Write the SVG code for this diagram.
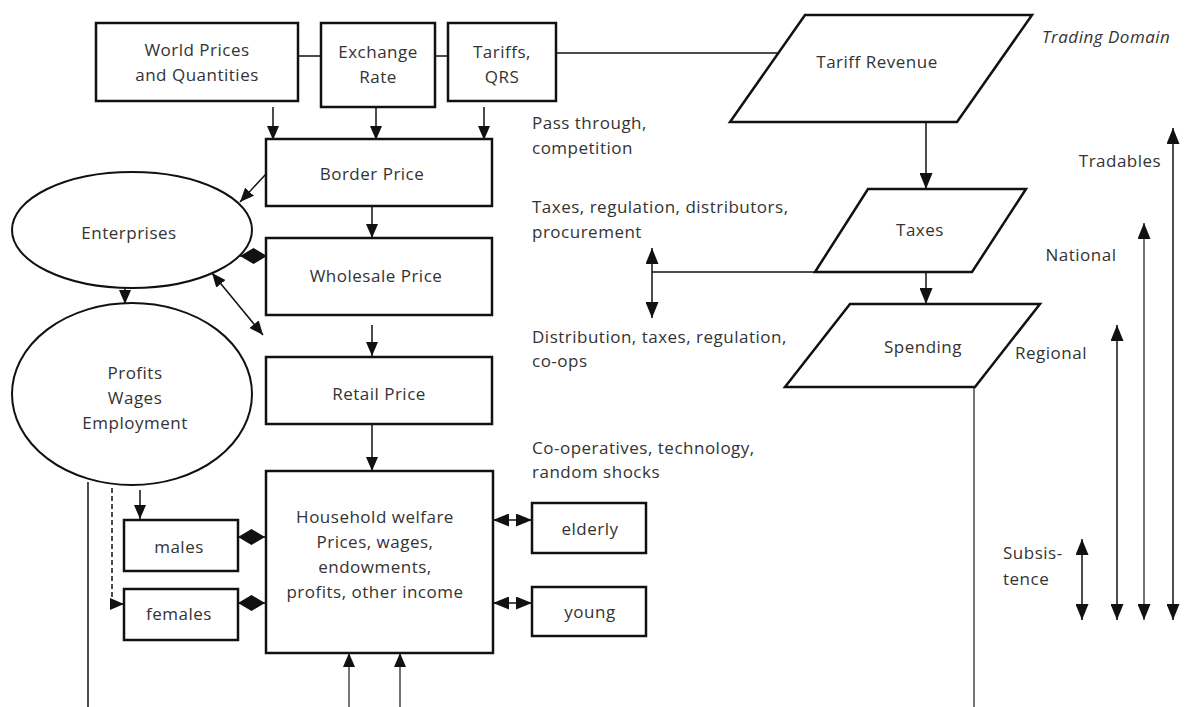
<svg xmlns="http://www.w3.org/2000/svg" width="1186" height="707" viewBox="0 0 1186 707">
<style>
.box{fill:#fff;stroke:#111;stroke-width:2.5}
.ell{fill:#fff;stroke:#111;stroke-width:2}
.ln{fill:none;stroke:#111;stroke-width:1.5}
.gl{fill:none;stroke:#666;stroke-width:1.8}
.t{font-family:"Open Sans","Noto Sans",sans-serif;font-size:17px;letter-spacing:0.5px;fill:#333}
.c{text-anchor:middle}
.i{font-style:italic}
</style>
<defs>
<marker id="a" markerUnits="userSpaceOnUse" markerWidth="16" markerHeight="13" refX="16" refY="6.5" orient="auto-start-reverse"><path d="M0,0 L16,6.5 L0,13 z" fill="#111"/></marker>
<marker id="s" markerUnits="userSpaceOnUse" markerWidth="14" markerHeight="12" refX="14" refY="6" orient="auto-start-reverse"><path d="M0,0 L14,6 L0,12 z" fill="#111"/></marker>
<marker id="d" markerUnits="userSpaceOnUse" markerWidth="27" markerHeight="16" refX="27" refY="8" orient="auto"><path d="M0,8 L13.5,0 L27,8 L13.5,16 z" fill="#111"/></marker>
</defs>
<rect width="1186" height="707" fill="#fff"/>
<g id="connectors">
<line class="ln" x1="298" y1="56" x2="321" y2="56"/>
<line class="ln" x1="435" y1="56" x2="448" y2="56"/>
<line class="ln" x1="556" y1="53" x2="778" y2="53"/>
<line class="ln" x1="273" y1="107" x2="273" y2="140" marker-end="url(#s)"/>
<line class="ln" x1="376" y1="107" x2="376" y2="140" marker-end="url(#s)"/>
<line class="ln" x1="484" y1="107" x2="484" y2="140" marker-end="url(#s)"/>
<line class="ln" x1="266" y1="174" x2="240" y2="202" marker-end="url(#s)"/>
<line class="ln" x1="372" y1="206" x2="372" y2="238" marker-end="url(#s)"/>
<line class="ln" x1="266" y1="256" x2="240" y2="256" marker-end="url(#d)"/>
<line class="ln" x1="212" y1="273" x2="263" y2="335" marker-start="url(#s)" marker-end="url(#s)"/>
<line class="ln" x1="125" y1="288" x2="125" y2="304" marker-end="url(#s)"/>
<line class="ln" x1="372" y1="325" x2="372" y2="356" marker-end="url(#s)"/>
<line class="ln" x1="372" y1="424" x2="372" y2="471" marker-end="url(#s)"/>
<line class="ln" x1="88" y1="482" x2="88" y2="707"/>
<path class="ln" d="M112,488 V604" stroke-dasharray="5,3"/>
<line class="ln" x1="112" y1="604" x2="124" y2="604" marker-end="url(#s)"/>
<line class="ln" x1="140" y1="490" x2="140" y2="519" marker-end="url(#s)"/>
<line class="ln" x1="266" y1="537" x2="238" y2="537" marker-end="url(#d)"/>
<line class="ln" x1="266" y1="603" x2="238" y2="603" marker-end="url(#d)"/>
<line class="ln" x1="493" y1="520" x2="532" y2="520" marker-start="url(#a)" marker-end="url(#a)"/>
<line class="ln" x1="493" y1="603" x2="532" y2="603" marker-start="url(#a)" marker-end="url(#a)"/>
<line class="gl" x1="349" y1="707" x2="349" y2="653" marker-end="url(#s)"/>
<line class="gl" x1="400" y1="707" x2="400" y2="653" marker-end="url(#s)"/>
<line class="ln" x1="926" y1="122" x2="926" y2="189" marker-end="url(#a)"/>
<line class="ln" x1="926" y1="272" x2="926" y2="304" marker-end="url(#a)"/>
<line class="ln" x1="652" y1="272" x2="815" y2="272"/>
<line class="ln" x1="652" y1="248" x2="652" y2="318" marker-start="url(#a)" marker-end="url(#a)"/>
<line class="gl" x1="974" y1="387" x2="974" y2="707"/>
<line class="ln" x1="1173" y1="620" x2="1173" y2="128" marker-start="url(#a)" marker-end="url(#a)"/>
<line class="gl" x1="1144" y1="620" x2="1144" y2="223" marker-start="url(#a)" marker-end="url(#a)"/>
<line class="ln" x1="1117" y1="620" x2="1117" y2="325" marker-start="url(#a)" marker-end="url(#a)"/>
<line class="ln" x1="1082" y1="620" x2="1082" y2="539" marker-start="url(#a)" marker-end="url(#a)"/>
</g>
<g id="world"><rect class="box" x="96" y="23" width="202" height="78"/><text class="t c" x="197" y="56">World Prices</text><text class="t c" x="197" y="81">and Quantities</text></g>
<g id="exchange"><rect class="box" x="321" y="23" width="114" height="84"/><text class="t c" x="378" y="58">Exchange</text><text class="t c" x="378" y="83">Rate</text></g>
<g id="tariffs"><rect class="box" x="448" y="23" width="108" height="78"/><text class="t c" x="502" y="58">Tariffs,</text><text class="t c" x="502" y="83">QRS</text></g>
<g id="tariffrev"><polygon class="box" points="805,15 1032,15 957,122 730,122"/><text class="t c" x="877" y="68">Tariff Revenue</text></g>
<g id="taxes"><polygon class="box" points="868,189 1026,189 972,272 815,272"/><text class="t c" x="920" y="236">Taxes</text></g>
<g id="spending"><polygon class="box" points="850,304 1040,304 975,387 785,387"/><text class="t c" x="923" y="353">Spending</text></g>
<g id="border"><rect class="box" x="266" y="139" width="226" height="67"/><text class="t c" x="372" y="180">Border Price</text></g>
<g id="wholesale"><rect class="box" x="266" y="238" width="226" height="77"/><text class="t c" x="376" y="282">Wholesale Price</text></g>
<g id="retail"><rect class="box" x="266" y="357" width="226" height="67"/><text class="t c" x="379" y="400">Retail Price</text></g>
<g id="household"><rect class="box" x="266" y="471" width="227" height="182"/><text class="t c" x="375" y="523">Household welfare</text><text class="t c" x="375" y="548">Prices, wages,</text><text class="t c" x="375" y="573">endowments,</text><text class="t c" x="375" y="598">profits, other income</text></g>
<g id="enterprises"><ellipse class="ell" cx="132" cy="230" rx="120" ry="58"/><text class="t c" x="129" y="239">Enterprises</text></g>
<g id="profits"><ellipse class="ell" cx="132" cy="394" rx="120" ry="91"/><text class="t c" x="135" y="379">Profits</text><text class="t c" x="135" y="404">Wages</text><text class="t c" x="135" y="429">Employment</text></g>
<g id="males"><rect class="box" x="124" y="520" width="114" height="51"/><text class="t c" x="179" y="553">males</text></g>
<g id="females"><rect class="box" x="124" y="589" width="114" height="51"/><text class="t c" x="179" y="620">females</text></g>
<g id="elderly"><rect class="box" x="532" y="503" width="114" height="50"/><text class="t c" x="590" y="535">elderly</text></g>
<g id="young"><rect class="box" x="532" y="587" width="114" height="49"/><text class="t c" x="590" y="618">young</text></g>
<g id="labels">
<text class="t i" x="1042" y="43">Trading Domain</text>
<text class="t" x="532" y="129">Pass through,</text>
<text class="t" x="532" y="154">competition</text>
<text class="t" x="532" y="213">Taxes, regulation, distributors,</text>
<text class="t" x="532" y="238">procurement</text>
<text class="t" x="532" y="343">Distribution, taxes, regulation,</text>
<text class="t" x="532" y="367">co-ops</text>
<text class="t" x="532" y="454">Co-operatives, technology,</text>
<text class="t" x="532" y="478">random shocks</text>
<text class="t c" x="1120" y="167">Tradables</text>
<text class="t c" x="1081" y="261">National</text>
<text class="t" x="1015" y="359">Regional</text>
<text class="t" x="1003" y="559">Subsis-</text>
<text class="t" x="1003" y="585">tence</text>
</g>
</svg>
